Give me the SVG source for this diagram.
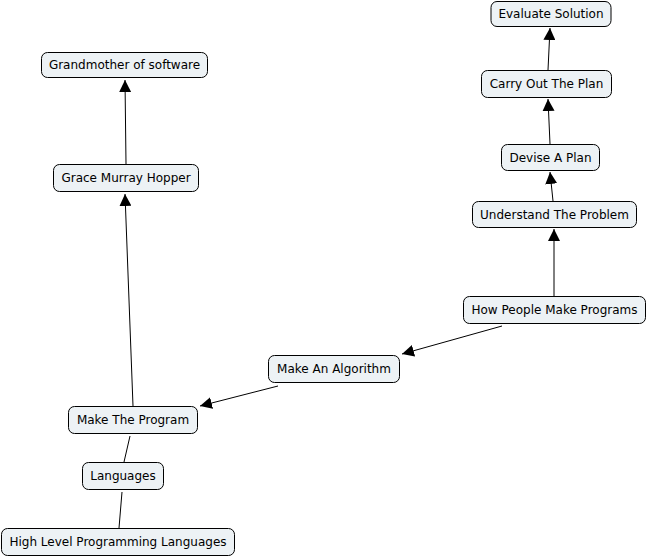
<svg xmlns="http://www.w3.org/2000/svg" width="648" height="557" viewBox="0 0 648 557">
<style>
.n rect{fill:#edf2f5;stroke:#000;stroke-width:1}
.n text{font-family:"DejaVu Sans",Verdana,sans-serif;font-size:12px;fill:#000;text-anchor:middle}
.c line{stroke:#000;stroke-width:1}
.a{marker-end:url(#ah)}
</style>
<defs>
<marker id="ah" markerUnits="userSpaceOnUse" markerWidth="12" markerHeight="12" viewBox="0 0 12 12" refX="12" refY="6" orient="auto">
<path d="M0,0 L12,6 L0,12 Z" fill="#000"/>
</marker>
</defs>
<rect width="648" height="557" fill="#fff"/>
<g class="c">
<line class="a" x1="126" y1="164" x2="125" y2="80"/>
<line class="a" x1="133" y1="406" x2="125" y2="194"/>
<line class="a" x1="502" y1="326" x2="402" y2="354"/>
<line class="a" x1="278" y1="386" x2="200" y2="406"/>
<line class="a" x1="554" y1="296" x2="554" y2="229"/>
<line class="a" x1="553" y1="201" x2="550" y2="172"/>
<line class="a" x1="550" y1="144" x2="548" y2="99"/>
<line class="a" x1="548" y1="70" x2="550" y2="28"/>
<line x1="130" y1="436" x2="124" y2="462"/>
<line x1="122" y1="492" x2="119" y2="528"/>
</g>
<g id="n-eval" class="n"><rect x="491" y="1.5" width="120" height="25" rx="6"/><text x="551" y="18">Evaluate Solution</text></g>
<g id="n-carry" class="n"><rect x="481.5" y="70.5" width="130" height="27" rx="6"/><text x="546.5" y="88">Carry Out The Plan</text></g>
<g id="n-devise" class="n"><rect x="501.5" y="144.5" width="98" height="26" rx="6"/><text x="550.5" y="162">Devise A Plan</text></g>
<g id="n-understand" class="n"><rect x="472.5" y="201.5" width="164" height="26" rx="6"/><text x="554.5" y="219">Understand The Problem</text></g>
<g id="n-how" class="n"><rect x="463.5" y="296.5" width="182" height="27" rx="6"/><text x="554.5" y="314">How People Make Programs</text></g>
<g id="n-algo" class="n"><rect x="268.5" y="355.5" width="131" height="27" rx="6"/><text x="334" y="373">Make An Algorithm</text></g>
<g id="n-program" class="n"><rect x="68.5" y="406.5" width="129" height="27" rx="6"/><text x="133" y="424">Make The Program</text></g>
<g id="n-lang" class="n"><rect x="82.5" y="462.5" width="81" height="27" rx="6"/><text x="123" y="480">Languages</text></g>
<g id="n-hlpl" class="n"><rect x="1.5" y="528.5" width="233" height="27" rx="6"/><text x="118" y="546">High Level Programming Languages</text></g>
<g id="n-grandmother" class="n"><rect x="41.5" y="52.5" width="166" height="25" rx="6"/><text x="124.5" y="69">Grandmother of software</text></g>
<g id="n-grace" class="n"><rect x="53.5" y="164.5" width="145" height="27" rx="6"/><text x="126" y="182">Grace Murray Hopper</text></g>
</svg>
